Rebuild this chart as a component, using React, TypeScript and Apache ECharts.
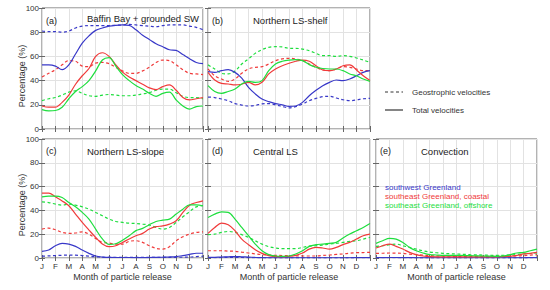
import React, { useEffect, useRef } from "react";
import * as echarts from "echarts";

// Month of release (fraction of year, 0 = 1 Jan, 12 = end of Dec)
const releaseMonth = [0, 0.5, 1, 1.5, 2, 2.5, 3, 3.5, 4, 4.5, 5, 5.5, 6, 6.5, 7, 7.5, 8, 8.5, 9, 9.5, 10, 10.5, 11, 11.5, 12];
const monthLabels = ["J", "F", "M", "A", "M", "J", "J", "A", "S", "O", "N", "D"];

// (a) Baffin Bay + grounded SW
const aBlueTotal = [53, 53, 52, 49, 53, 62, 71, 77, 81.5, 83.5, 85, 85.7, 86, 85.7, 82, 77.5, 74, 70.5, 68, 65.5, 65, 61.5, 58, 55, 54];
const aBlueGeo = [81, 80.5, 80.5, 80, 81, 83.5, 85, 85.5, 85.5, 85.5, 85.5, 85.7, 86, 86.5, 86, 85.5, 85, 84.5, 85.5, 86, 86, 86, 85, 84, 82];
const aRedTotal = [19, 18, 18, 22, 28, 37, 44, 50, 60, 63, 60, 53, 47, 43, 40, 37, 34, 32.5, 35, 36.5, 32, 26, 24, 25, 26];
const aRedGeo = [43, 46, 49, 53, 56.5, 56, 52, 51.5, 54.5, 55, 54, 51, 48, 46, 46, 48, 51, 55, 57, 56.5, 53, 49, 46, 45.5, 45];
const aGreenTotal = [16, 15, 15.3, 18, 25, 31, 35, 40, 48, 57, 59, 52, 45, 40, 36, 33, 29.5, 27, 29.5, 30.5, 24, 19, 16.5, 18.5, 19];
const aGreenGeo = [23.5, 25, 26, 28, 30.5, 31.5, 29.5, 27.5, 27, 28, 28.5, 28, 27.5, 27.5, 28, 29, 30, 32, 33, 33, 30, 27, 26, 26, 25];

// (b) Northern LS-shelf
const bBlueTotal = [47.4, 46.8, 48.2, 49, 46.8, 42, 34.4, 29, 24.8, 22.6, 21, 20, 18.7, 19, 22, 27.5, 32, 35.8, 38.5, 40.5, 40, 41.3, 44, 46.8, 48.2];
const bBlueGeo = [26.4, 26, 24.8, 23.4, 21, 19.8, 19, 19.5, 20.7, 21, 20, 18.7, 17.4, 18.5, 20.7, 23.4, 25.3, 26.7, 27, 25.6, 24.2, 23.4, 24, 25, 25.3];
const bRedTotal = [46.8, 40.5, 37.7, 37.2, 36.4, 37, 38.6, 36.4, 38.6, 45.5, 49.6, 52.3, 54.3, 56, 57, 56, 52.3, 48.8, 48.2, 49.6, 52.3, 53, 48.8, 44, 40];
const bRedGeo = [49.6, 44, 41.3, 39.4, 41.3, 46, 49.6, 51, 51.5, 53.7, 56.5, 57.9, 58.4, 57.9, 56.5, 53.7, 51, 48.8, 48.2, 49.6, 51.5, 51, 49.6, 48.2, 48.2];
const bGreenTotal = [35.8, 31, 29.5, 31, 33, 37.2, 39.4, 38.6, 40, 48.2, 53.7, 56, 57, 57.3, 56.5, 53.2, 51, 50, 49.6, 49.6, 48.2, 45.5, 44, 41.3, 39.4];
const bGreenGeo = [53, 49.6, 46, 45.5, 48, 53.7, 58, 62.5, 65.6, 67.5, 68, 67.8, 66.7, 66.7, 66, 64.7, 62.5, 60.6, 60.6, 60, 60.6, 60, 58.7, 57, 55];

// (c) Northern LS-slope
const cBlueTotal = [5.6, 6.7, 10.3, 12.3, 11.7, 9.8, 6.7, 3.9, 1.7, 0.8, 0.5, 0.4, 0.4, 0.4, 0.3, 0.3, 0.4, 0.6, 0.7, 0.9, 1.2, 2, 3, 4, 4];
const cBlueGeo = [1.5, 1.8, 2, 2.3, 2.5, 2.4, 2, 1.5, 1, 0.7, 0.5, 0.5, 0.5, 0.5, 0.5, 0.5, 0.5, 0.5, 0.5, 0.5, 0.6, 0.7, 0.8, 1.2, 1.5];
const cRedTotal = [54.5, 54.5, 51.4, 48, 43.9, 36.9, 29.9, 23.5, 17.3, 11.7, 9.5, 10.3, 13.1, 16, 18.7, 20.7, 24.3, 26.3, 27, 28.5, 31.3, 38.3, 44.4, 46.6, 48];
const cRedGeo = [24.3, 25.1, 23.7, 21.5, 20.7, 21, 22, 20, 16.5, 13.1, 12.6, 11.7, 11.7, 14, 14.5, 13.1, 10.3, 8.1, 7.5, 9.5, 14.5, 17.9, 20.1, 21.5, 22];
const cGreenTotal = [51.4, 52, 52, 50.8, 46.6, 43, 38.3, 32.7, 24.3, 16, 11.5, 12, 15, 18.7, 23, 24.9, 28, 30.7, 31.8, 32.7, 36.9, 41, 44.7, 44.7, 43.9];
const cGreenGeo = [47.2, 46.6, 45.3, 44.4, 45.3, 44.4, 43, 41, 38.3, 35.5, 32.7, 30.7, 29.9, 29.3, 29, 28.5, 27.7, 25.7, 24.3, 25.7, 29.9, 34.6, 39, 43, 43.9];

// (d) Central LS
const dBlueTotal = [0.5, 0.6, 0.8, 1, 1.2, 1, 0.8, 0.5, 0.3, 0.2, 0.2, 0.2, 0.2, 0.2, 0.2, 0.2, 0.2, 0.2, 0.2, 0.2, 0.2, 0.2, 0.3, 0.3, 0.3];
const dBlueGeo = [0.3, 0.3, 0.4, 0.5, 0.5, 0.4, 0.3, 0.2, 0.2, 0.1, 0.1, 0.1, 0.1, 0.1, 0.1, 0.1, 0.1, 0.1, 0.1, 0.1, 0.1, 0.1, 0.2, 0.2, 0.2];
const dRedTotal = [20.7, 25.7, 29.3, 27.9, 22.9, 15.9, 11.2, 7, 3.9, 2, 1.1, 1.1, 1.4, 2.2, 4.2, 7.5, 8.9, 8.4, 7.5, 8.9, 11.2, 13.1, 15.9, 18.7, 20.1];
const dRedGeo = [6.1, 6.1, 6.1, 5.8, 5.6, 4.9, 4.2, 3.5, 2.8, 2.5, 2.2, 2.1, 2, 1.8, 1.7, 1.7, 1.7, 2.1, 2.5, 3, 3.4, 4, 4.5, 4.6, 4.7];
const dGreenTotal = [34, 36.9, 38.8, 38.3, 32.7, 25.7, 18.7, 11.7, 6.1, 2.8, 1.7, 1.4, 1.7, 3.4, 6.1, 9.8, 11.2, 11.7, 12.3, 13.1, 16.8, 20.1, 22.9, 25.7, 29];
const dGreenGeo = [19.6, 20.1, 21.5, 22.3, 21.5, 19.6, 17.3, 14.5, 11.7, 9.5, 8.4, 7.8, 7.8, 7.8, 8.9, 10, 10.3, 10.9, 11.7, 12.3, 13.1, 14, 14.5, 15.9, 17.3];

// (e) Convection
const eBlueTotal = [0.3, 0.3, 0.4, 0.4, 0.3, 0.3, 0.2, 0.2, 0.2, 0.2, 0.2, 0.2, 0.2, 0.2, 0.2, 0.2, 0.2, 0.2, 0.2, 0.2, 0.2, 0.2, 0.2, 0.3, 0.3];
const eBlueGeo = [0.2, 0.2, 0.2, 0.2, 0.2, 0.2, 0.1, 0.1, 0.1, 0.1, 0.1, 0.1, 0.1, 0.1, 0.1, 0.1, 0.1, 0.1, 0.1, 0.1, 0.1, 0.1, 0.1, 0.2, 0.2];
const eRedTotal = [8.4, 10.3, 11.7, 9.8, 7.5, 4.7, 2.8, 1.7, 1.1, 1, 1, 1, 1, 1, 1, 1, 1, 1, 1, 1.2, 1.4, 2.2, 3.4, 3.9, 4.7];
const eRedGeo = [3.9, 4, 4.2, 4.1, 3.9, 3.3, 2.8, 2.4, 2, 1.8, 1.7, 1.5, 1.4, 1.4, 1.4, 1.4, 1.4, 1.4, 1.4, 1.4, 1.4, 1.7, 2, 2.4, 2.8];
const eGreenTotal = [12.3, 14.5, 16.5, 15.9, 13.1, 8.9, 6.1, 4.2, 2.8, 2.5, 2.2, 2.2, 2.2, 2.1, 2, 1.8, 1.7, 1.5, 1.4, 1.7, 2.8, 4.2, 4.7, 6.1, 7.5];
const eGreenGeo = [9.8, 10.3, 11.2, 11.7, 10.3, 8.9, 7.5, 6.1, 5, 4.4, 3.9, 3.6, 3.4, 3.1, 2.8, 2.6, 2.5, 2.3, 2.2, 2.3, 2.5, 3, 3.4, 3.8, 4.2];

const panelTitles = ["Baffin Bay + grounded SW", "Northern LS-shelf", "Northern LS-slope", "Central LS", "Convection"];
const panelLetters = ["(a)", "(b)", "(c)", "(d)", "(e)"];
const regionNames = ["southwest Greenland", "southeast Greenland, coastal", "southeast Greenland, offshore"];
const styleNames = ["Geostrophic velocities", "Total velocities"];

const panels = [
  { blue: [aBlueTotal, aBlueGeo], red: [aRedTotal, aRedGeo], green: [aGreenTotal, aGreenGeo] },
  { blue: [bBlueTotal, bBlueGeo], red: [bRedTotal, bRedGeo], green: [bGreenTotal, bGreenGeo] },
  { blue: [cBlueTotal, cBlueGeo], red: [cRedTotal, cRedGeo], green: [cGreenTotal, cGreenGeo] },
  { blue: [dBlueTotal, dBlueGeo], red: [dRedTotal, dRedGeo], green: [dGreenTotal, dGreenGeo] },
  { blue: [eBlueTotal, eBlueGeo], red: [eRedTotal, eRedGeo], green: [eGreenTotal, eGreenGeo] },
];

const BLUE = "#3838c8";
const RED = "#f03a3a";
const GREEN = "#1ede3e";
const FONT = '"Liberation Sans", Arial, sans-serif';

const gridBoxes = [
  { left: 42, top: 8, width: 161, height: 121 },
  { left: 208, top: 8, width: 162, height: 121 },
  { left: 42, top: 139, width: 161, height: 119 },
  { left: 208, top: 139, width: 162, height: 119 },
  { left: 376, top: 139, width: 161, height: 119 },
];

export default function App() {
  const ref = useRef<HTMLDivElement>(null);
  useEffect(() => {
    if (!ref.current) return;
    const chart = echarts.init(ref.current, null, { renderer: "svg" });

    const grid: any[] = [];
    const xAxis: any[] = [];
    const yAxis: any[] = [];
    const series: any[] = [];
    const graphic: any[] = [];

    gridBoxes.forEach((g, i) => {
      const bottomRow = i >= 2;
      const leftCol = i === 0 || i === 2;
      grid.push({ ...g, show: true, borderColor: "#666", borderWidth: 1, backgroundColor: "transparent" });
      const tick = { show: true, inside: true, length: 3, lineStyle: { color: "#666", width: 1 } };
      xAxis.push({
        type: "value", gridIndex: i, min: 0, max: 12, interval: 1, position: "bottom",
        axisLine: { show: false }, axisTick: tick,
        splitLine: { show: true, lineStyle: { color: "#e2e2e2", width: 1 } },
        axisLabel: {
          show: bottomRow, margin: 4, fontSize: 8, color: "#333", fontFamily: FONT,
          formatter: (v: number) => monthLabels[Math.round(v)] ?? "",
        },
      });
      xAxis.push({
        type: "value", gridIndex: i, min: 0, max: 12, interval: 1, position: "top",
        axisLine: { show: false }, axisTick: tick, splitLine: { show: false }, axisLabel: { show: false },
      });
      yAxis.push({
        type: "value", gridIndex: i, min: 0, max: 100, interval: 20, position: "left",
        axisLine: { show: false }, axisTick: tick,
        splitLine: { show: true, lineStyle: { color: "#e2e2e2", width: 1 } },
        axisLabel: { show: leftCol, margin: 3, fontSize: 8, color: "#333", fontFamily: FONT },
      });
      yAxis.push({
        type: "value", gridIndex: i, min: 0, max: 100, interval: 20, position: "right",
        axisLine: { show: false }, axisTick: tick, splitLine: { show: false }, axisLabel: { show: false },
      });

      const p = panels[i];
      const add = (vals: number[], color: string, dashed: boolean) => {
        series.push({
          type: "line", xAxisIndex: i * 2, yAxisIndex: i * 2, smooth: 0.35, symbol: "none",
          data: releaseMonth.map((m, k) => [m, vals[k]]),
          lineStyle: { color, width: 1.2, type: dashed ? [3, 2.5] : "solid" },
          silent: true,
        });
      };
      add(p.blue[1], BLUE, true);
      add(p.red[1], RED, true);
      add(p.green[1], GREEN, true);
      add(p.blue[0], BLUE, false);
      add(p.red[0], RED, false);
      add(p.green[0], GREEN, false);

      const ty = i === 0 ? 18 : i === 1 ? 20 : 151;
      graphic.push({
        type: "text", x: g.left + 4, y: i < 2 ? 21 : 151, z: 100,
        style: { text: panelLetters[i], fill: "#222", font: `9px ${FONT}`, align: "left", verticalAlign: "middle" },
      });
      graphic.push({
        type: "text", x: g.left + 45, y: ty, z: 100,
        style: { text: panelTitles[i], fill: "#222", font: `9.5px ${FONT}`, align: "left", verticalAlign: "middle" },
      });
      if (bottomRow) {
        graphic.push({
          type: "text", x: g.left + g.width / 2, y: 277, z: 100,
          style: { text: "Month of particle release", fill: "#333", font: `9px ${FONT}`, align: "center", verticalAlign: "middle" },
        });
      }
    });

    [76, 205].forEach((cy) => {
      graphic.push({
        type: "text", x: 22, y: cy, rotation: Math.PI / 2, z: 100,
        style: { text: "Percentage (%)", fill: "#333", font: `9px ${FONT}`, align: "center", verticalAlign: "middle" },
      });
    });

    graphic.push({ type: "line", z: 100, shape: { x1: 385, y1: 92, x2: 403, y2: 92 }, style: { stroke: "#333", lineWidth: 1, lineDash: [3, 2.5] } });
    graphic.push({ type: "line", z: 100, shape: { x1: 385, y1: 110, x2: 403, y2: 110 }, style: { stroke: "#333", lineWidth: 1.2 } });
    graphic.push({ type: "text", x: 412, y: 92, z: 100, style: { text: styleNames[0], fill: "#333", font: `8px ${FONT}`, align: "left", verticalAlign: "middle" } });
    graphic.push({ type: "text", x: 412, y: 110, z: 100, style: { text: styleNames[1], fill: "#333", font: `8px ${FONT}`, align: "left", verticalAlign: "middle" } });

    [BLUE, RED, GREEN].forEach((c, k) => {
      graphic.push({
        type: "text", x: 385, y: [187, 196, 205.5][k], z: 100,
        style: { text: regionNames[k], fill: c, font: `8px ${FONT}`, align: "left", verticalAlign: "middle" },
      });
    });

    chart.setOption({ animation: false, grid, xAxis, yAxis, series, graphic });
    return () => chart.dispose();
  }, []);

  return (
    <div
      ref={ref}
      style={{ position: "fixed", left: 0, top: 0, width: 550, height: 290, background: "#fff" }}
    />
  );
}
